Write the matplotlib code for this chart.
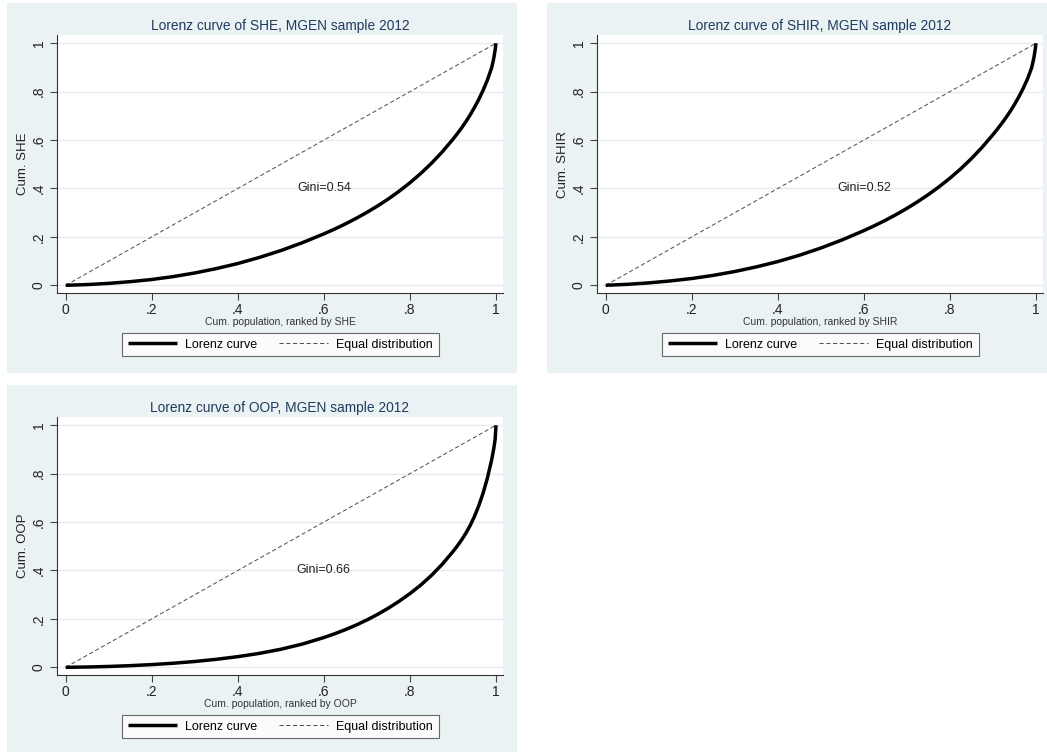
import matplotlib.pyplot as plt
from matplotlib.patches import Rectangle

plt.rcParams['font.family'] = ['Liberation Sans', 'DejaVu Sans']

# cumulative population share
pop = [0, 0.05, 0.1, 0.15, 0.2, 0.25, 0.3, 0.35, 0.4, 0.45, 0.5, 0.55, 0.6,
       0.625, 0.65, 0.675, 0.7, 0.725, 0.75, 0.775, 0.8, 0.825, 0.85, 0.875,
       0.9, 0.91, 0.92, 0.93, 0.94, 0.95, 0.96, 0.97, 0.98, 0.99, 0.995,
       0.998, 1]

# cumulative shares
she = [0, 0.003, 0.008, 0.015, 0.024, 0.036, 0.051, 0.069, 0.09, 0.115, 0.1435,
       0.176, 0.2125, 0.2323, 0.2535, 0.2765, 0.3013, 0.328, 0.357, 0.3888,
       0.4235, 0.4618, 0.504, 0.551, 0.6035, 0.626, 0.65, 0.676, 0.704,
       0.7345, 0.768, 0.8055, 0.848, 0.899, 0.939, 0.972, 1]
shir = [0, 0.004, 0.01, 0.018, 0.028, 0.041, 0.057, 0.076, 0.098, 0.124, 0.154,
        0.188, 0.226, 0.2465, 0.2685, 0.2923, 0.3178, 0.3453, 0.375, 0.4073,
        0.4425, 0.481, 0.5235, 0.5705, 0.6225, 0.6445, 0.6675, 0.692, 0.7185,
        0.747, 0.778, 0.8125, 0.8515, 0.899, 0.939, 0.972, 1]
oop = [0, 0.0012, 0.0035, 0.0068, 0.0112, 0.0168, 0.024, 0.033, 0.044, 0.0575,
       0.0745, 0.096, 0.123, 0.1385, 0.1555, 0.1745, 0.1955, 0.2188, 0.2445,
       0.273, 0.3045, 0.3395, 0.3795, 0.4255, 0.478, 0.501, 0.526, 0.554,
       0.586, 0.6235, 0.6675, 0.7195, 0.7815, 0.8575, 0.905, 0.941, 1]

names = ["SHE", "SHIR", "OOP"]
ginis = ["0.54", "0.52", "0.66"]
curves = [she, shir, oop]

ticks = [0, 0.2, 0.4, 0.6, 0.8, 1]
tick_labels = ["0", ".2", ".4", ".6", ".8", "1"]

W, H = 1047, 753
fig = plt.figure(figsize=(W / 100, H / 100), dpi=100)
fig.patch.set_facecolor("white")

bg = "#EAF2F3"
grid = "#E3ECEF"
navy = "#1F3A5F"

# panel backgrounds and axes boxes in pixels (left, top, right, bottom)
panels = [(7, 3, 517, 373), (547, 3, 1047, 373), (7, 385, 517, 752)]
boxes = [(57, 35, 503, 293), (597, 35, 1043, 293), (57, 417, 503, 675)]

for k in range(3):
    l, t, r, b = panels[k]
    fig.patches.append(Rectangle((l / W, 1 - b / H), (r - l) / W, (b - t) / H,
                                 transform=fig.transFigure, facecolor=bg,
                                 edgecolor="none", zorder=-5))
    l, t, r, b = boxes[k]
    ax = fig.add_axes([l / W, 1 - b / H, (r - l) / W, (b - t) / H])
    ax.set_zorder(1)
    ax.set_facecolor("white")

    ax.plot(pop, curves[k], color="black", lw=2.5, solid_joinstyle="round",
            solid_capstyle="butt", label="Lorenz curve", zorder=3)
    ax.plot([0, 1], [0, 1], color="#555555", lw=0.75, dashes=(4, 2.5),
            label="Equal distribution", zorder=2)

    ax.set_xlim(-0.0202, 1.0163)
    ax.set_ylim(-0.0318, 1.034)
    ax.set_xticks(ticks)
    ax.set_xticklabels(tick_labels)
    ax.set_yticks(ticks)
    ax.set_yticklabels(tick_labels, rotation=90, va="center")
    ax.tick_params(labelsize=10, length=5, width=0.8, color="#444444",
                   labelcolor="#222222", pad=2)
    ax.tick_params(axis="y", pad=3)
    for y in ticks:
        ax.axhline(y, color=grid, lw=1, zorder=1)

    ax.spines["top"].set_visible(False)
    ax.spines["right"].set_visible(False)
    ax.spines["left"].set_color("#333333")
    ax.spines["bottom"].set_color("#333333")
    ax.spines["left"].set_linewidth(0.8)
    ax.spines["bottom"].set_linewidth(0.8)

    ax.set_title("Lorenz curve of " + names[k] + ", MGEN sample 2012",
                 fontsize=9.9, color=navy, pad=3.5)
    ax.set_ylabel("Cum. " + names[k], fontsize=9.5, color="#222222")
    ax.yaxis.set_label_coords(-0.063, 0.5)
    ax.set_xlabel("Cum. population, ranked by " + names[k], fontsize=7.5,
                  color="#333333", labelpad=0)
    ax.text(0.6, 0.4, "Gini=" + ginis[k], ha="center", va="center",
            fontsize=9, color="#222222")

    leg = ax.legend(loc="center", bbox_to_anchor=(0.501, -0.2), ncol=2,
                    fontsize=9, frameon=True, fancybox=False,
                    handlelength=3.9, handletextpad=0.65, columnspacing=1.8,
                    borderpad=0.45)
    leg.get_frame().set_edgecolor("#444444")
    leg.get_frame().set_linewidth(0.8)

plt.savefig("out.png", dpi=100, facecolor="white")
